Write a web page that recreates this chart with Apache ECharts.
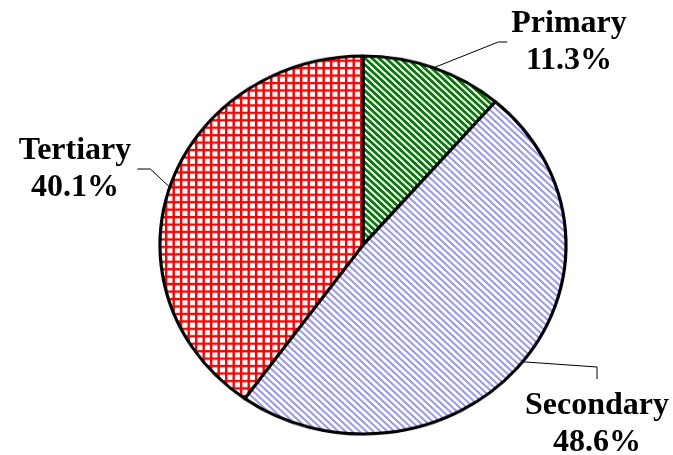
<!DOCTYPE html>
<html>
<head>
<meta charset="utf-8">
<script src="https://cdn.jsdelivr.net/npm/echarts@6/dist/echarts.min.js"></script>
<style>
html, body { margin: 0; padding: 0; background: #fff; overflow: hidden; }
#wrap { position: relative; width: 673px; height: 455px; overflow: hidden; }
#pie { position: absolute; left: 0; top: 0; width: 673px; transform-origin: 0 0; }
#labels { position: absolute; left: 0; top: 0; width: 673px; height: 455px; }
</style>
</head>
<body>
<div id="wrap">
  <div id="pie"></div>
  <div id="labels"></div>
</div>
<script>
// ---- data ----
var categories = ['Primary', 'Secondary', 'Tertiary'];
var shares = [11.3, 48.6, 40.1];

// ---- layout (not data) ----
var CX = 363, CY = 245, RX = 203, RY = 189;
var K = RY / RX;             // vertical squash that turns the circle into the ellipse
// label placement: centre of the text block, side of the box the leader attaches to
var placement = [
  { x: 569, y: 42,  side: 'left',  pad: 4, len: 9 },
  { x: 597, y: 424, side: 'top',   pad: 8, len: 12 },
  { x: 75,  y: 169, side: 'right', pad: 6, len: 13 }
];

function makeTile(w, h, painter) {
  var c = document.createElement('canvas');
  c.width = w; c.height = h;
  var ctx = c.getContext('2d');
  ctx.fillStyle = '#ffffff';
  ctx.fillRect(0, 0, w, h);
  painter(ctx);
  return c;
}
function stripeTile(color, period, thick) {
  return makeTile(period, period, function (ctx) {
    ctx.fillStyle = color;
    for (var y = 0; y < period; y++) {
      for (var x = 0; x < period; x++) {
        if (((x - y) % period + period) % period < thick) ctx.fillRect(x, y, 1, 1);
      }
    }
  });
}
function gridTile(color) {
  return makeTile(15, 8, function (ctx) {
    ctx.fillStyle = color;
    ctx.fillRect(0, 0, 2.4, 8);
    ctx.fillRect(7.5, 0, 2.4, 8);
    ctx.fillRect(0, 0, 15, 2.5);
  });
}
var patterns = [
  { image: stripeTile('#008000', 7, 4), repeat: 'repeat' },
  { image: stripeTile('#9999ff', 7, 3), repeat: 'repeat' },
  { image: gridTile('#ff0000'), repeat: 'repeat' }
];

// ---- bottom chart: the (elliptical) pie ----
var pieDiv = document.getElementById('pie');
pieDiv.style.height = (455 / K) + 'px';
pieDiv.style.transform = 'scaleY(' + K + ')';
var pieChart = echarts.init(pieDiv, null, { renderer: 'canvas' });
pieChart.setOption({
  animation: false,
  series: [{
    type: 'pie',
    center: [CX, CY / K],
    radius: RX,
    startAngle: 90,
    clockwise: true,
    silent: true,
    label: { show: false },
    labelLine: { show: false },
    itemStyle: { borderColor: '#000', borderWidth: 3.2 },
    data: categories.map(function (c, i) {
      return { name: c, value: shares[i], itemStyle: { color: patterns[i] } };
    })
  }]
});

// ---- top chart: labels and leader lines ----
var labelChart = echarts.init(document.getElementById('labels'), null, { renderer: 'canvas' });
labelChart.setOption({
  animation: false,
  series: [{
    type: 'pie',
    center: [CX, CY],
    radius: RX,
    startAngle: 90,
    clockwise: true,
    silent: true,
    avoidLabelOverlap: false,
    itemStyle: { color: 'rgba(0,0,0,0)', borderWidth: 0 },
    emphasis: { disabled: true },
    label: {
      show: true,
      position: 'outside',
      formatter: function (p) { return p.name + '\n' + p.value.toFixed(1) + '%'; },
      fontFamily: 'Liberation Serif',
      fontWeight: 'bold',
      fontSize: 32,
      lineHeight: 37,
      color: '#000',
      align: 'center'
    },
    labelLine: { show: true, lineStyle: { color: '#000', width: 1 } },
    labelLayout: function (params) {
      var pl = placement[params.dataIndex];
      var w = params.labelRect.width, h = params.labelRect.height;
      var p0 = params.labelLinePoints[0];
      var start = [p0[0], CY + (p0[1] - CY) * K];
      var anchor, elbow;
      if (pl.side === 'left') {
        anchor = [pl.x - w / 2 - pl.pad, pl.y];
        elbow = [anchor[0] - pl.len, anchor[1]];
      } else if (pl.side === 'right') {
        anchor = [pl.x + w / 2 + pl.pad, pl.y];
        elbow = [anchor[0] + pl.len, anchor[1]];
      } else {
        anchor = [pl.x, pl.y - h / 2 - pl.pad];
        elbow = [anchor[0], anchor[1] - pl.len];
      }
      return {
        x: pl.x, y: pl.y, align: 'center', verticalAlign: 'middle',
        labelLinePoints: [start, elbow, anchor]
      };
    },
    data: categories.map(function (c, i) { return { name: c, value: shares[i] }; })
  }]
});
</script>
</body>
</html>
